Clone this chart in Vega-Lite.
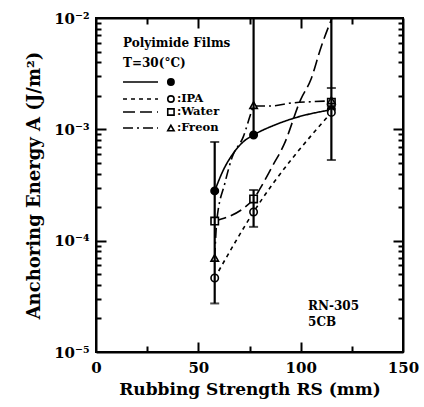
{
  "$schema": "https://vega.github.io/schema/vega-lite/v6.json",
  "width": 307,
  "height": 334,
  "autosize": {"type": "none"},
  "padding": {"left": 96, "top": 18, "right": 21, "bottom": 55},
  "background": "white",
  "config": {
    "view": {"stroke": "black", "strokeWidth": 2},
    "axis": {
      "grid": false,
      "zindex": 1,
      "domainColor": "black",
      "domainWidth": 2,
      "tickColor": "black",
      "tickWidth": 2,
      "labelColor": "black",
      "labelFont": "DejaVu Serif",
      "labelFontWeight": "bold",
      "labelFontSize": 15,
      "titleColor": "black",
      "titleFont": "DejaVu Serif",
      "titleFontWeight": "bold"
    }
  },
  "datasets": {
    "curves": [
      {"series": "none", "x": 58, "A": 0.00028},
      {"series": "none", "x": 62.2, "A": 0.00043},
      {"series": "none", "x": 67.1, "A": 0.00061},
      {"series": "none", "x": 72, "A": 0.000774},
      {"series": "none", "x": 77, "A": 0.00089},
      {"series": "none", "x": 86.6, "A": 0.00108},
      {"series": "none", "x": 98, "A": 0.00128},
      {"series": "none", "x": 115, "A": 0.0015},
      {"series": "IPA", "x": 58, "A": 0.0000462},
      {"series": "IPA", "x": 77, "A": 0.000181},
      {"series": "IPA", "x": 115, "A": 0.00142},
      {"series": "Water", "x": 58, "A": 0.00015},
      {"series": "Water", "x": 77, "A": 0.000237},
      {"series": "Water", "x": 80, "A": 0.00029},
      {"series": "Water", "x": 86, "A": 0.00046},
      {"series": "Water", "x": 92, "A": 0.00074},
      {"series": "Water", "x": 100, "A": 0.00185},
      {"series": "Water", "x": 105, "A": 0.0028},
      {"series": "Water", "x": 110, "A": 0.0055},
      {"series": "Water", "x": 115.3, "A": 0.01},
      {"series": "Freon", "x": 58, "A": 0.00007},
      {"series": "Freon", "x": 59, "A": 0.00015},
      {"series": "Freon", "x": 63, "A": 0.00033},
      {"series": "Freon", "x": 66.5, "A": 0.00056},
      {"series": "Freon", "x": 72, "A": 0.00086},
      {"series": "Freon", "x": 76, "A": 0.00145},
      {"series": "Freon", "x": 77, "A": 0.00162},
      {"series": "Freon", "x": 85, "A": 0.00162},
      {"series": "Freon", "x": 95, "A": 0.00172},
      {"series": "Freon", "x": 105, "A": 0.00177},
      {"series": "Freon", "x": 115, "A": 0.0018}
    ],
    "points": [
      {"series": "none", "x": 58, "A": 0.00028},
      {"series": "none", "x": 77, "A": 0.00089},
      {"series": "none", "x": 115, "A": 0.00152},
      {"series": "IPA", "x": 58, "A": 0.0000462},
      {"series": "IPA", "x": 77, "A": 0.000181},
      {"series": "IPA", "x": 115, "A": 0.00142},
      {"series": "Water", "x": 58, "A": 0.00015},
      {"series": "Water", "x": 77, "A": 0.000237},
      {"series": "Water", "x": 115, "A": 0.00175},
      {"series": "Freon", "x": 58, "A": 0.00007},
      {"series": "Freon", "x": 77, "A": 0.00165},
      {"series": "Freon", "x": 115, "A": 0.00182}
    ],
    "errs": [
      {"x": 58, "lo": 0.0000273, "hi": 0.00077},
      {"x": 77, "lo": 0.00089, "hi": 0.01},
      {"x": 77, "lo": 0.000133, "hi": 0.000285},
      {"x": 115, "lo": 0.00053, "hi": 0.01}
    ],
    "caps": [
      {"x": 58, "A": 0.0000273},
      {"x": 58, "A": 0.00077},
      {"x": 77, "A": 0.000133},
      {"x": 77, "A": 0.000285},
      {"x": 115, "A": 0.00053},
      {"x": 115, "A": 0.00235}
    ],
    "legendLines": [
      {"series": "none", "x": 13.2, "A": 0.00266},
      {"series": "none", "x": 30.3, "A": 0.00266},
      {"series": "IPA", "x": 13.2, "A": 0.001873},
      {"series": "IPA", "x": 30.3, "A": 0.001873},
      {"series": "Water", "x": 13.2, "A": 0.001431},
      {"series": "Water", "x": 30.3, "A": 0.001431},
      {"series": "Freon", "x": 13.2, "A": 0.001028},
      {"series": "Freon", "x": 30.3, "A": 0.001028}
    ],
    "legendMarks": [
      {"series": "none", "x": 36.6, "A": 0.00266, "label": ""},
      {"series": "IPA", "x": 36.6, "A": 0.001873, "label": ":IPA"},
      {"series": "Water", "x": 36.6, "A": 0.001431, "label": ":Water"},
      {"series": "Freon", "x": 36.6, "A": 0.001028, "label": ":Freon"}
    ],
    "notes": [
      {"x": 13.2, "A": 0.00596, "text": "Polyimide Films"},
      {"x": 13.2, "A": 0.00394, "text": "T=30(°C)"},
      {"x": 103.6, "A": 0.0000259, "text": "RN-305"},
      {"x": 103.6, "A": 0.0000186, "text": "5CB"}
    ]
  },
  "resolve": {"axis": {"x": "independent", "y": "independent"}},
  "layer": [
    {
      "data": {"name": "curves"},
      "mark": {"type": "line", "color": "black", "strokeWidth": 1.6, "interpolate": "monotone"},
      "encoding": {
        "x": {"field": "x", "type": "quantitative",
          "scale": {"domain": [0, 150], "nice": false},
          "axis": {"orient": "bottom", "values": [0, 50, 100, 150], "ticks": false,
            "labelPadding": 8, "labelFlush": false,
            "title": "Rubbing Strength RS (mm)", "titleFontSize": 17, "titlePadding": 6}},
        "y": {"field": "A", "type": "quantitative",
          "scale": {"type": "log", "domain": [0.00001, 0.01], "nice": false},
          "axis": {"orient": "left", "values": [0.00001, 0.0001, 0.001, 0.01], "ticks": false,
            "labelExpr": "datum.value == 0.01 ? '10⁻²' : datum.value == 0.001 ? '10⁻³' : datum.value == 0.0001 ? '10⁻⁴' : '10⁻⁵'",
            "labelPadding": 7, "labelFlush": false,
            "title": "Anchoring Energy A (J/m²)", "titleFontSize": 18, "titlePadding": 10}},
        "detail": {"field": "series"},
        "strokeDash": {"field": "series", "type": "nominal",
          "scale": {"domain": ["none", "IPA", "Water", "Freon"], "range": [[1, 0], [4, 4], [12, 5], [10, 4, 2, 4]]},
          "legend": null}
      }
    },
    {
      "data": {"name": "points"},
      "mark": {"type": "point", "filled": true, "stroke": "black", "strokeWidth": 1.6, "size": 55, "opacity": 1},
      "encoding": {
        "x": {"field": "x", "type": "quantitative",
          "axis": {"orient": "top", "ticks": false, "labels": false, "title": null}},
        "y": {"field": "A", "type": "quantitative",
          "axis": {"orient": "right", "ticks": false, "labels": false, "title": null}},
        "shape": {"field": "series", "type": "nominal",
          "scale": {"domain": ["none", "IPA", "Water", "Freon"], "range": ["circle", "circle", "square", "triangle-up"]},
          "legend": null},
        "fill": {"field": "series", "type": "nominal",
          "scale": {"domain": ["none", "IPA", "Water", "Freon"], "range": ["black", "white", "white", "white"]},
          "legend": null}
      }
    },
    {
      "data": {"name": "errs"},
      "mark": {"type": "rule", "color": "black", "strokeWidth": 2.2},
      "encoding": {
        "x": {"field": "x", "type": "quantitative",
          "axis": {"orient": "bottom", "values": [50, 100], "offset": -10, "tickSize": 10, "ticks": true, "domain": false, "labels": false, "title": null}},
        "y": {"field": "lo", "type": "quantitative",
          "axis": {"orient": "left", "values": [0.0001, 0.001], "offset": -10, "tickSize": 10, "ticks": true, "domain": false, "labels": false, "title": null}},
        "y2": {"field": "hi"}
      }
    },
    {
      "data": {"name": "caps"},
      "mark": {"type": "tick", "orient": "horizontal", "color": "black", "size": 9, "thickness": 2},
      "encoding": {
        "x": {"field": "x", "type": "quantitative",
          "axis": {"orient": "bottom", "values": [25, 75, 125], "offset": -6, "tickSize": 6, "ticks": true, "domain": false, "labels": false, "title": null}},
        "y": {"field": "A", "type": "quantitative",
          "axis": {"orient": "left", "offset": -5, "tickSize": 5, "ticks": true, "domain": false, "labels": false, "title": null,
            "values": [0.00002, 0.00003, 0.00004, 0.00005, 0.00006, 0.00007, 0.00008, 0.00009, 0.0002, 0.0003, 0.0004, 0.0005, 0.0006, 0.0007, 0.0008, 0.0009, 0.002, 0.003, 0.004, 0.005, 0.006, 0.007, 0.008, 0.009]}}
      }
    },
    {
      "data": {"name": "legendLines"},
      "mark": {"type": "line", "color": "black", "strokeWidth": 1.6},
      "encoding": {
        "x": {"field": "x", "type": "quantitative",
          "axis": {"orient": "top", "values": [50, 100], "offset": -10, "tickSize": 10, "ticks": true, "domain": false, "labels": false, "title": null}},
        "y": {"field": "A", "type": "quantitative",
          "axis": {"orient": "right", "values": [0.0001, 0.001], "offset": -10, "tickSize": 10, "ticks": true, "domain": false, "labels": false, "title": null}},
        "detail": {"field": "series"},
        "strokeDash": {"field": "series", "type": "nominal", "legend": null}
      }
    },
    {
      "data": {"name": "legendMarks"},
      "mark": {"type": "point", "filled": true, "stroke": "black", "strokeWidth": 1.6, "size": 40, "opacity": 1},
      "encoding": {
        "x": {"field": "x", "type": "quantitative",
          "axis": {"orient": "top", "values": [25, 75, 125], "offset": -6, "tickSize": 6, "ticks": true, "domain": false, "labels": false, "title": null}},
        "y": {"field": "A", "type": "quantitative",
          "axis": {"orient": "right", "offset": -5, "tickSize": 5, "ticks": true, "domain": false, "labels": false, "title": null,
            "values": [0.00002, 0.00003, 0.00004, 0.00005, 0.00006, 0.00007, 0.00008, 0.00009, 0.0002, 0.0003, 0.0004, 0.0005, 0.0006, 0.0007, 0.0008, 0.0009, 0.002, 0.003, 0.004, 0.005, 0.006, 0.007, 0.008, 0.009]}},
        "shape": {"field": "series", "type": "nominal", "legend": null},
        "fill": {"field": "series", "type": "nominal", "legend": null}
      }
    },
    {
      "data": {"name": "legendMarks"},
      "mark": {"type": "text", "align": "left", "baseline": "middle", "dx": 6, "font": "DejaVu Serif", "fontWeight": "bold", "fontSize": 11.5, "color": "black"},
      "encoding": {
        "x": {"field": "x", "type": "quantitative", "axis": null},
        "y": {"field": "A", "type": "quantitative", "axis": null},
        "text": {"field": "label"}
      }
    },
    {
      "data": {"name": "notes"},
      "mark": {"type": "text", "align": "left", "baseline": "middle", "font": "DejaVu Serif", "fontWeight": "bold", "fontSize": 12, "color": "black"},
      "encoding": {
        "x": {"field": "x", "type": "quantitative", "axis": null},
        "y": {"field": "A", "type": "quantitative", "axis": null},
        "text": {"field": "text"}
      }
    }
  ]
}
